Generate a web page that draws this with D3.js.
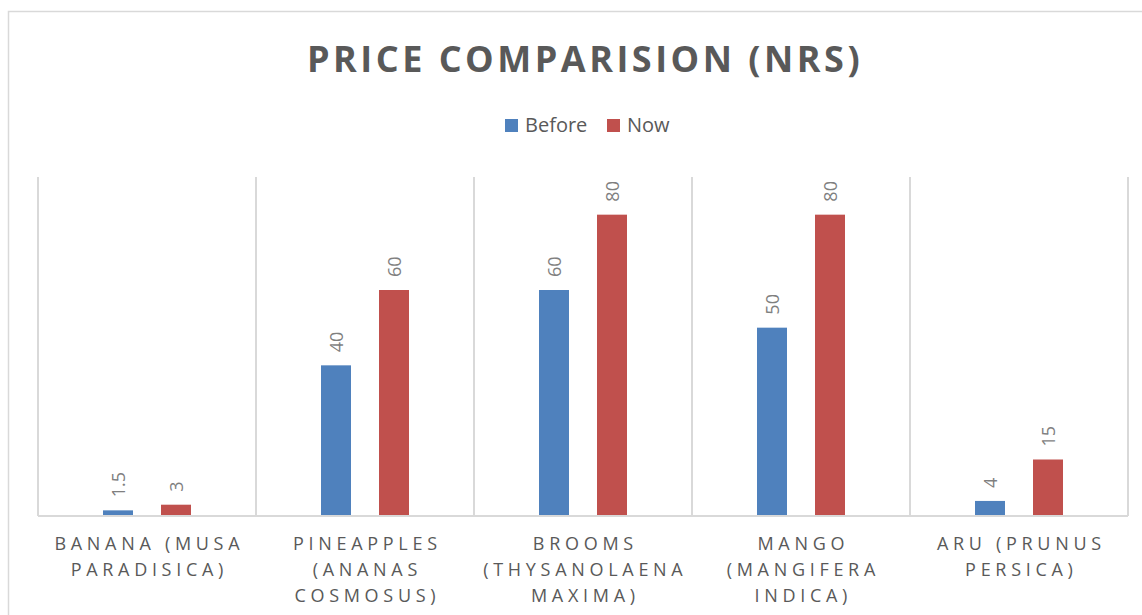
<!DOCTYPE html>
<html>
<head>
<meta charset="utf-8">
<script src="https://cdn.jsdelivr.net/npm/d3@7"></script>
<style>
  body { margin: 0; background: #fff; }
  svg { display: block; }
  text { font-family: "Open Sans", "Liberation Sans", sans-serif; }
</style>
</head>
<body>
<div id="chart"></div>
<script>
// chart values
const categories = [
    ["BANANA (MUSA", "PARADISICA)"],
    ["PINEAPPLES", "(ANANAS", "COSMOSUS)"],
    ["BROOMS", "(THYSANOLAENA", "MAXIMA)"],
    ["MANGO", "(MANGIFERA", "INDICA)"],
    ["ARU (PRUNUS", "PERSICA)"]
];
const seriesNames = ["Before", "Now"];
const before = [1.5, 40, 60, 50, 4];
const now = [3, 60, 80, 80, 15];
const yMax = 90;

const width = 1142, height = 615;
const colors = ["#4F81BD", "#C0504D"];
const gridColor = "#d9d9d9";
const textColor = "#595959";

const plot = { left: 38, right: 1128, top: 177, bottom: 516 };

const svg = d3.select("#chart").append("svg")
      .attr("width", width)
      .attr("height", height);

// chart frame
svg.append("path")
    .attr("d", `M8.5,${height}V11.5H${width}`)
    .attr("fill", "none")
    .attr("stroke", gridColor)
    .attr("stroke-width", 1.5);

const x = d3.scaleBand()
      .domain(d3.range(categories.length))
      .range([plot.left, plot.right]);

// bar pair sits in the middle of each category
const half = x.bandwidth() / 2;
const xs = d3.scaleBand()
      .domain(seriesNames)
      .range([half - 44, half + 44])
      .paddingInner(0.483);

const y = d3.scaleLinear()
      .domain([0, yMax])
      .range([plot.bottom, plot.top]);

// vertical category separators
svg.append("g")
    .selectAll("line")
    .data(d3.range(categories.length + 1))
    .enter().append("line")
    .attr("x1", i => plot.left + i * x.step())
    .attr("x2", i => plot.left + i * x.step())
    .attr("y1", plot.top)
    .attr("y2", plot.bottom)
    .attr("stroke", gridColor)
    .attr("stroke-width", 2);

// bars
const rows = categories.map((c, i) => ({ i, values: [before[i], now[i]] }));

const groups = svg.append("g")
      .selectAll("g")
      .data(rows)
      .enter().append("g")
      .attr("transform", d => `translate(${x(d.i)},0)`);

groups.selectAll("rect")
    .data(d => d.values.map((v, k) => ({ v, k })))
    .enter().append("rect")
    .attr("x", d => xs(seriesNames[d.k]))
    .attr("width", xs.bandwidth())
    .attr("y", d => y(d.v))
    .attr("height", d => y(0) - y(d.v))
    .attr("fill", d => colors[d.k]);

groups.selectAll("text")
    .data(d => d.values.map((v, k) => ({ v, k })))
    .enter().append("text")
    .attr("transform", d => `translate(${xs(seriesNames[d.k]) + xs.bandwidth() / 2 + 1},${y(d.v) - 13}) rotate(-90)`)
    .attr("dy", "0.35em")
    .attr("fill", "#7f7f7f")
    .style("font-size", "18px")
    .text(d => d.v);

// x axis line
svg.append("line")
    .attr("x1", plot.left)
    .attr("x2", plot.right)
    .attr("y1", plot.bottom)
    .attr("y2", plot.bottom)
    .attr("stroke", gridColor)
    .attr("stroke-width", 2);

// category labels
const labelSpacing = 4.7;
svg.append("g")
    .selectAll("text")
    .data(categories)
    .enter().append("text")
    .attr("text-anchor", "middle")
    .attr("fill", textColor)
    .style("font-size", "18px")
    .style("letter-spacing", labelSpacing + "px")
    .each(function (lines, i) {
        d3.select(this).selectAll("tspan")
            .data(lines)
            .enter().append("tspan")
            .attr("x", x(i) + x.bandwidth() / 2 + labelSpacing / 2)
            .attr("y", (d, j) => 550 + j * 26)
            .text(d => d);
    });

// title
svg.append("text")
    .attr("x", (plot.left + plot.right) / 2 + 2)
    .attr("y", 72)
    .attr("text-anchor", "middle")
    .attr("fill", textColor)
    .style("font-size", "36px")
    .style("font-weight", "bold")
    .style("letter-spacing", "3.5px")
    .text("PRICE COMPARISION (NRS)");

// legend
const legend = svg.append("g")
      .attr("transform", "translate(505,119)");

const legendX = [0, 102];
const item = legend.selectAll("g")
      .data(seriesNames)
      .enter().append("g")
      .attr("transform", (d, i) => `translate(${legendX[i]},0)`);

item.append("rect")
    .attr("width", 13)
    .attr("height", 13)
    .attr("fill", (d, i) => colors[i]);

item.append("text")
    .attr("x", 20)
    .attr("y", 13)
    .attr("fill", textColor)
    .style("font-size", "20px")
    .text(d => d);
</script>
</body>
</html>
